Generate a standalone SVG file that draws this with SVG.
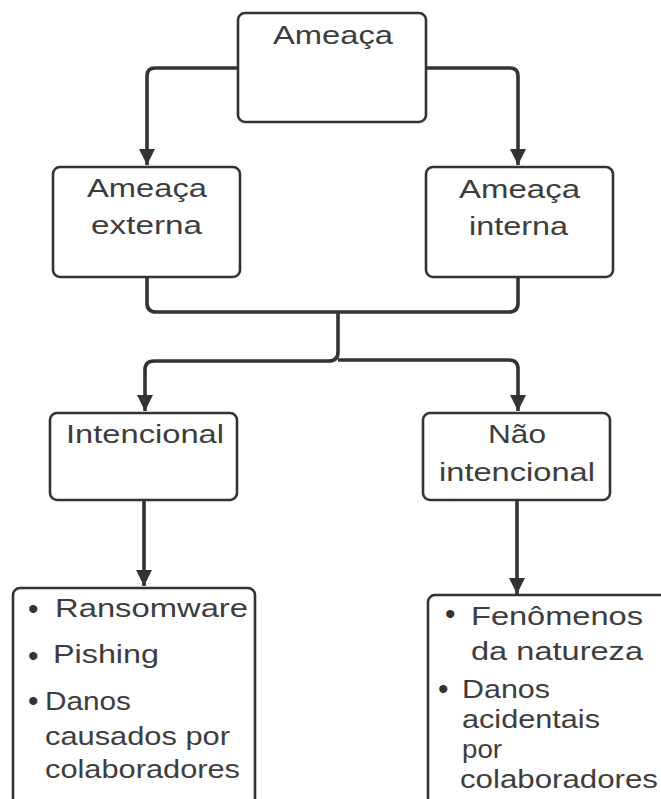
<svg xmlns="http://www.w3.org/2000/svg" width="661" height="799" viewBox="0 0 661 799">
  <style>
    .box { fill: #ffffff; stroke: #333333; stroke-width: 2.6; }
    .lbl { font-family: "Liberation Sans", Arial, sans-serif; font-size: 26px; fill: #3d3d3d; }
    .blt { font-family: "Liberation Sans", Arial, sans-serif; font-size: 30px; fill: #333333; }
    .wire { fill: none; stroke: #333333; stroke-width: 3.6; stroke-linejoin: round; }
  </style>
  <defs>
    <marker id="head" viewBox="0 0 16 18" refX="16" refY="9" markerWidth="16" markerHeight="18" markerUnits="userSpaceOnUse" orient="auto">
      <path d="M0,1 L16,9 L0,17 Z" fill="#333333"/>
    </marker>
  </defs>

  <rect width="661" height="799" fill="#ffffff"/>

  <!-- connectors -->
  <g id="connectors">
    <path class="wire" d="M238,68 H155 Q147,68 147,76 V165" marker-end="url(#head)"/>
    <path class="wire" d="M426,68 H510 Q518,68 518,76 V165" marker-end="url(#head)"/>
    <path class="wire" d="M147,277 V303 Q147,312 156,312 H509 Q518,312 518,303 V277"/>
    <path class="wire" d="M338,312 V352 Q338,361 329,361 H154 Q145,361 145,370 V411" marker-end="url(#head)"/>
    <path class="wire" d="M338,360 H509 Q518,360 518,369 V411" marker-end="url(#head)"/>
    <path class="wire" d="M144,500 V586" marker-end="url(#head)"/>
    <path class="wire" d="M517,500 V594" marker-end="url(#head)"/>
  </g>

  <g id="ameaca">
    <rect class="box" x="238" y="13" width="188" height="109" rx="7"/>
    <text class="lbl" x="273" y="44" textLength="120" lengthAdjust="spacingAndGlyphs">Ameaça</text>
  </g>

  <g id="ameaca-externa">
    <rect class="box" x="53" y="167" width="187" height="110" rx="7"/>
    <text class="lbl" x="87" y="197" textLength="120" lengthAdjust="spacingAndGlyphs">Ameaça</text>
    <text class="lbl" x="91" y="234" textLength="111" lengthAdjust="spacingAndGlyphs">externa</text>
  </g>

  <g id="ameaca-interna">
    <rect class="box" x="426" y="167" width="187" height="110" rx="7"/>
    <text class="lbl" x="459" y="198" textLength="121" lengthAdjust="spacingAndGlyphs">Ameaça</text>
    <text class="lbl" x="469" y="235" textLength="99" lengthAdjust="spacingAndGlyphs">interna</text>
  </g>

  <g id="intencional">
    <rect class="box" x="50" y="413" width="187" height="87" rx="7"/>
    <text class="lbl" x="66" y="443" textLength="158" lengthAdjust="spacingAndGlyphs">Intencional</text>
  </g>

  <g id="nao-intencional">
    <rect class="box" x="423" y="413" width="187" height="87" rx="7"/>
    <text class="lbl" x="488" y="443" textLength="58" lengthAdjust="spacingAndGlyphs">Não</text>
    <text class="lbl" x="439" y="481" textLength="156" lengthAdjust="spacingAndGlyphs">intencional</text>
  </g>

  <g id="exemplos-intencional">
    <rect class="box" x="13" y="588" width="242" height="240" rx="7"/>
    <text class="blt" x="28" y="619">•</text>
    <text class="lbl" x="55" y="617" textLength="193" lengthAdjust="spacingAndGlyphs">Ransomware</text>
    <text class="blt" x="28" y="666">•</text>
    <text class="lbl" x="53" y="663" textLength="106" lengthAdjust="spacingAndGlyphs">Pishing</text>
    <text class="blt" x="28" y="711" font-size="24">•</text>
    <text class="lbl" x="45" y="710" textLength="86" lengthAdjust="spacingAndGlyphs">Danos</text>
    <text class="lbl" x="45" y="745" textLength="185" lengthAdjust="spacingAndGlyphs">causados por</text>
    <text class="lbl" x="45" y="778" textLength="195" lengthAdjust="spacingAndGlyphs">colaboradores</text>
  </g>

  <g id="exemplos-nao-intencional">
    <rect class="box" x="428" y="595" width="260" height="240" rx="7"/>
    <text class="blt" x="445" y="624">•</text>
    <text class="lbl" x="471" y="625" textLength="172" lengthAdjust="spacingAndGlyphs">Fenômenos</text>
    <text class="lbl" x="471" y="660" textLength="172" lengthAdjust="spacingAndGlyphs">da natureza</text>
    <text class="blt" x="438" y="699">•</text>
    <text class="lbl" x="462" y="698" textLength="88" lengthAdjust="spacingAndGlyphs">Danos</text>
    <text class="lbl" x="462" y="728" textLength="138" lengthAdjust="spacingAndGlyphs">acidentais</text>
    <text class="lbl" x="462" y="758" textLength="40" lengthAdjust="spacingAndGlyphs">por</text>
    <text class="lbl" x="460" y="788" textLength="198" lengthAdjust="spacingAndGlyphs">colaboradores</text>
  </g>
</svg>
